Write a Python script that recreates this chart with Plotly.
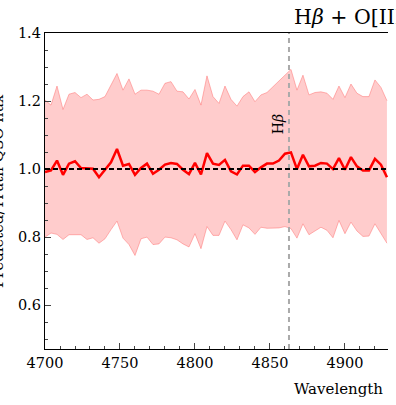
import plotly.graph_objects as go

wavelength = [4700, 4704, 4708, 4712, 4716, 4720, 4724, 4728, 4732, 4736,
              4740, 4744, 4748, 4752, 4756, 4760, 4764, 4768, 4772, 4776,
              4780, 4784, 4788, 4792, 4796, 4800, 4804, 4808, 4812, 4816,
              4820, 4824, 4828, 4832, 4836, 4840, 4844, 4848, 4852, 4856,
              4860, 4864, 4868, 4872, 4876, 4880, 4884, 4888, 4892, 4896,
              4900, 4904, 4908, 4912, 4916, 4920, 4924, 4928]

mean_ratio = [0.991, 0.996, 1.025, 0.983, 1.016, 1.023, 1.003, 1.003, 1.001, 0.976,
              0.998, 1.020, 1.059, 1.010, 1.015, 0.983, 1.003, 1.016, 0.986, 0.998,
              1.013, 1.018, 1.015, 0.998, 0.985, 1.018, 0.984, 1.047, 1.016, 1.012,
              1.027, 0.993, 0.984, 1.010, 1.010, 0.991, 1.005, 1.016, 1.016, 1.025,
              1.045, 1.049, 1.000, 1.042, 1.008, 1.010, 1.018, 1.016, 1.000, 1.032,
              0.998, 1.035, 1.008, 0.996, 0.996, 1.030, 1.013, 0.976]

upper_ratio = [1.203, 1.188, 1.244, 1.175, 1.220, 1.225, 1.210, 1.220, 1.203, 1.205,
               1.213, 1.247, 1.281, 1.232, 1.265, 1.220, 1.232, 1.232, 1.229, 1.220,
               1.252, 1.257, 1.229, 1.227, 1.206, 1.234, 1.188, 1.274, 1.213, 1.193,
               1.244, 1.205, 1.185, 1.213, 1.227, 1.198, 1.218, 1.225, 1.242, 1.262,
               1.276, 1.293, 1.232, 1.276, 1.218, 1.225, 1.227, 1.223, 1.205, 1.244,
               1.210, 1.250, 1.223, 1.213, 1.213, 1.262, 1.240, 1.201]

lower_ratio = [0.800, 0.812, 0.808, 0.793, 0.807, 0.807, 0.807, 0.793, 0.798, 0.782,
               0.795, 0.822, 0.847, 0.797, 0.778, 0.746, 0.795, 0.800, 0.778, 0.780,
               0.800, 0.798, 0.792, 0.780, 0.771, 0.810, 0.766, 0.831, 0.805, 0.805,
               0.847, 0.822, 0.792, 0.836, 0.827, 0.808, 0.829, 0.826, 0.827, 0.827,
               0.831, 0.825, 0.797, 0.839, 0.807, 0.818, 0.829, 0.820, 0.798, 0.849,
               0.810, 0.844, 0.818, 0.802, 0.803, 0.839, 0.812, 0.782]

hbeta = 4862.68
ref_level = 1.0
x_ticks = [4700, 4750, 4800, 4850, 4900]
y_ticks = [0.6, 0.8, 1.0, 1.2, 1.4]
y_tick_labels = ["0.6", "0.8", "1.0", "1.2", "1.4"]

FONT = "DejaVu Serif"

fig = go.Figure()
fig.add_trace(go.Scatter(x=wavelength, y=lower_ratio, mode="lines",
                         line=dict(color="rgba(255,110,110,0.5)", width=1),
                         showlegend=False, hoverinfo="skip"))
fig.add_trace(go.Scatter(x=wavelength, y=upper_ratio, mode="lines", fill="tonexty",
                         fillcolor="rgba(255,0,0,0.2)",
                         line=dict(color="rgba(255,110,110,0.5)", width=1),
                         showlegend=False, hoverinfo="skip"))
fig.add_trace(go.Scatter(x=wavelength, y=mean_ratio, mode="lines",
                         line=dict(color="#ff0000", width=2.5), showlegend=False))

fig.add_shape(type="line", xref="x", yref="paper", x0=hbeta, x1=hbeta, y0=0, y1=1,
              line=dict(color="#aaaaaa", width=2, dash="5px,4px"))
fig.add_shape(type="line", xref="paper", yref="y", x0=0, x1=1, y0=ref_level, y1=ref_level,
              line=dict(color="black", width=2, dash="5px,3px"))

fig.add_annotation(x=hbeta, y=1.132, xref="x", yref="y", text="H<i>β</i>",
                   textangle=-90, showarrow=False, xshift=-11,
                   font=dict(family=FONT, size=14, color="black"))
fig.add_annotation(x=(292 - 45) / 343, y=1.0, xref="paper", yref="paper",
                   yshift=16.5, text="H<i>β</i> + O[III]", showarrow=False,
                   xanchor="left", yanchor="middle",
                   font=dict(family=FONT, size=20.5, color="black"))
fig.add_annotation(x=(385 - 45) / 343, y=0, xref="paper", yref="paper",
                   yshift=-29, text="Wavelength", showarrow=False,
                   xanchor="right", yanchor="top",
                   font=dict(family=FONT, size=15, color="black"))
fig.add_annotation(x=(-2 - 45) / 343, y=0.5, xref="paper", yref="paper",
                   text="Predicted/Truth QSO flux", textangle=-90, showarrow=False,
                   xanchor="center", yanchor="middle",
                   font=dict(family=FONT, size=15, color="black"))

fig.update_layout(
    width=396, height=405,
    margin=dict(l=45, r=8, t=33, b=56),
    plot_bgcolor="white", paper_bgcolor="white",
    font=dict(family=FONT, size=14.5, color="black"),
    xaxis=dict(range=[4700, 4928.7], tickvals=x_ticks, ticks="inside", ticklen=6,
               tickwidth=1.3, showline=True, linecolor="black", linewidth=1.3,
               mirror=True, showgrid=False, zeroline=False,
               minor=dict(dtick=10, tick0=4700, ticks="inside", ticklen=3,
                          tickwidth=1, showgrid=False)),
    yaxis=dict(range=[0.471, 1.4], tickvals=y_ticks, ticktext=y_tick_labels,
               ticks="inside", ticklen=6, tickwidth=1.3, showline=True,
               linecolor="black", linewidth=1.3, showgrid=False, zeroline=False,
               minor=dict(dtick=0.05, tick0=0.6, ticks="inside", ticklen=3,
                          tickwidth=1, showgrid=False)),
)

fig.write_html("out.html")
